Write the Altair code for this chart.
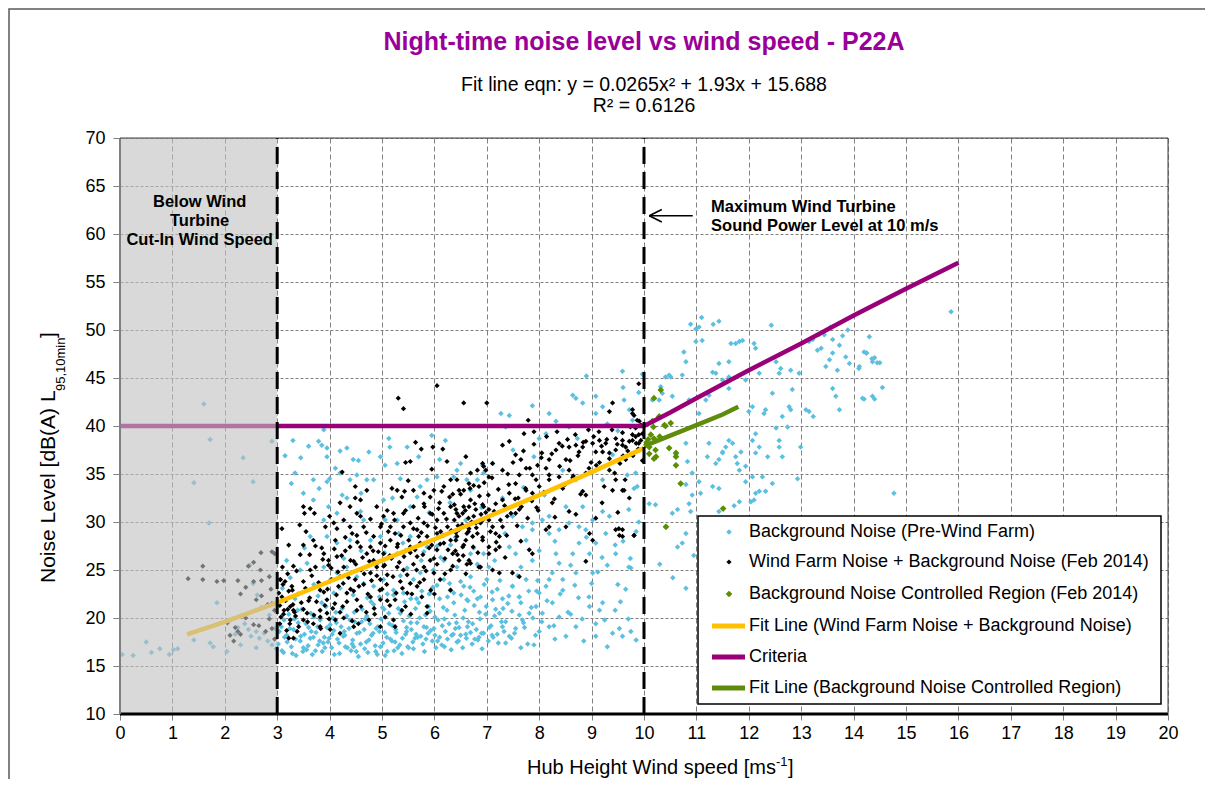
import altair as alt
import pandas as pd

FONT = "Liberation Sans"

TITLE = "Night-time noise level vs wind speed - P22A"
SUBTITLE = ["Fit line eqn: y = 0.0265x² + 1.93x + 15.688", "R² = 0.6126"]
X_TITLE = ["Hub Height Wind speed [ms", "-1", "]"]
Y_TITLE = ["Noise Level [dB(A) L", "95,10min", "]"]

X_TICKS = list(range(0, 21))
Y_TICKS = list(range(10, 71, 5))

LEGEND_LABELS = [
    "Background Noise (Pre-Wind Farm)",
    "Wind Farm Noise + Background Noise (Feb 2014)",
    "Background Noise Controlled Region (Feb 2014)",
    "Fit Line (Wind Farm Noise + Background Noise)",
    "Criteria",
    "Fit Line (Background Noise Controlled Region)",
]

# Background noise (pre-wind farm) - light blue
BLUE = [
    (0.04,16.2),(0.25,16.1),(0.5,17.5),(0.6,16.4),(0.76,16.8),(0.94,16.2),(1.02,16.7),(1.1,16.8),
    (1.41,17.7),(1.72,17.4),(1.78,17.0),(2.04,16.5),(1.6,42.3),(1.72,38.6),(2.35,36.7),(2.9,38.4),
    (1.41,34.1),(2.54,34.2),(1.7,29.9),(1.85,21.6),(2.1,19.8),(2.25,19.0),(2.38,19.4),(2.45,18.8),
    (2.5,18.1),(2.6,18.6),(2.66,17.9),(2.75,18.4),(2.82,17.6),(2.9,17.2),(2.95,18.9),(2.48,25.5),
    (2.54,23.6),(2.62,22.4),(2.7,21.1),(2.3,17.2),(2.2,18.3),(2.85,20.3),(2.98,16.8),(2.6,16.9),
    (3.02,17.3),(3.08,19.1),(3.12,16.4),(3.18,18.2),(3.22,20.4),(3.27,17.0),(3.31,18.8),(3.36,16.1),
    (3.4,19.5),(3.44,17.6),(3.47,20.9),(3.52,18.3),(3.56,16.7),(3.6,19.0),(3.63,17.9),(3.67,16.2),
    (3.7,20.1),(3.74,18.5),(3.78,17.2),(3.82,19.8),(3.86,16.5),(3.9,18.0),(3.93,21.2),(3.97,17.5),
    (4.01,19.3),(4.04,16.9),(4.08,18.7),(4.12,20.6),(4.15,17.8),(4.19,16.3),(4.22,19.1),(4.26,18.1),
    (4.3,17.0),(4.33,20.2),(4.37,18.9),(4.41,16.6),(4.44,17.7),(4.48,19.6),(4.52,18.4),(4.55,16.0),
    (4.59,17.3),(4.62,20.9),(4.66,18.8),(4.7,17.5),(4.73,16.4),(4.77,19.4),(4.8,18.2),(4.84,21.4),
    (4.87,17.1),(4.91,16.2),(4.95,18.6),(4.98,19.9),(5.02,17.4),(5.06,16.1),(5.09,18.0),(5.13,20.5),
    (5.16,17.8),(5.2,19.2),(5.23,16.6),(5.27,18.5),(5.31,21.0),(5.34,17.2),(5.38,16.3),(5.41,19.7),
    (5.45,18.3),(5.49,17.0),(5.52,20.2),(5.56,18.8),(5.6,16.8),(5.63,17.9),(5.67,19.5),(5.7,21.6),
    (5.74,18.1),(5.78,17.3),(5.81,16.5),(5.85,19.0),(5.88,18.4),(5.92,20.7),(5.96,17.6),(5.99,18.9),
    (6.03,16.9),(6.07,19.8),(6.1,18.0),(6.14,17.2),(6.17,21.1),(6.21,18.6),(6.25,17.8),(6.28,19.4),
    (6.32,16.7),(6.36,18.3),(6.39,20.3),(6.43,17.5),(6.47,19.0),(6.5,18.2),(6.54,16.9),(6.58,20.8),
    (6.61,17.9),(6.65,19.6),(6.69,18.5),(6.72,17.3),(6.76,21.3),(6.8,18.8),(6.83,17.7),(6.87,19.9),
    (6.91,16.8),(6.94,18.4),(6.98,20.4),(7.03,17.6),(7.08,19.2),(7.12,18.0),(7.17,20.9),(7.22,17.4),
    (7.28,19.6),(7.33,18.6),(7.4,21.5),(7.47,17.9),(7.55,18.9),(7.62,20.3),(7.7,19.5),(7.78,17.3),
    (7.85,21.1),(7.93,18.2),
    (3.14,18.0),(3.33,19.9),(3.5,16.9),(3.65,18.6),(3.88,17.4),(4.06,20.0),(4.28,18.6),(4.46,17.0),
    (4.68,19.9),(4.89,18.9),(5.04,20.9),(5.25,17.5),(5.47,19.0),(5.65,18.3),(5.83,20.3),(6.01,18.2),
    (6.19,19.9),(6.4,18.9),(6.63,19.1),(6.85,18.0),(5.9,22.5),(6.3,22.9),(5.55,22.0),(4.95,22.2),
    (3.1,23.1),(3.18,26.0),(3.25,24.2),(3.34,22.0),(3.44,25.0),(3.52,27.3),(3.57,25.7),(3.7,23.5),
    (3.78,22.3),(3.89,25.3),(4.02,24.0),(4.08,22.6),(4.14,24.7),(4.14,27.8),(4.2,23.1),(4.27,26.2),
    (4.33,25.3),(4.45,22.4),(4.52,24.3),(4.6,27.0),(4.65,23.6),(4.72,22.1),(4.84,23.3),(4.9,25.6),
    (5.03,24.0),(5.1,22.5),(5.16,26.4),(5.22,22.9),(5.29,26.7),(5.35,24.4),(5.41,22.6),(5.48,25.2),
    (5.6,24.0),(5.66,22.0),(5.73,24.7),(5.8,26.9),(5.86,27.4),(5.92,22.6),(5.98,25.0),(6.05,23.4),
    (6.12,26.3),(6.18,24.0),(6.18,26.0),(6.25,22.2),(6.31,27.6),(6.37,22.6),(6.43,25.3),(6.5,23.8),
    (6.56,23.3),(6.62,21.9),(6.69,24.3),(6.69,26.7),(6.75,22.8),(6.82,25.6),(6.88,22.2),(6.94,26.7),
    (7.0,24.0),(7.04,25.3),(7.11,21.9),(7.2,23.0),(7.3,22.0),(7.43,27.4),(7.49,23.3),(7.55,26.7),
    (7.62,22.2),(7.75,24.0),(7.87,26.0),(7.95,22.8),
    (3.27,34.0),(3.34,35.1),(3.69,34.4),(3.69,32.3),(3.79,38.4),(3.85,38.0),(3.89,39.6),(3.95,37.7),
    (3.95,36.8),(3.95,34.2),(3.98,31.6),(4.0,34.5),(4.11,35.6),(4.2,35.1),(4.2,37.4),(4.24,32.8),
    (4.33,37.7),(4.33,32.5),(4.39,34.4),(4.52,34.9),(4.55,36.4),(4.59,31.1),(4.71,34.4),(4.84,34.4),
    (4.97,36.8),(5.03,32.3),(5.06,35.9),(5.06,30.2),(5.13,38.7),(5.15,37.8),(5.29,36.1),(5.29,30.2),
    (5.32,28.8),(5.48,37.8),(5.54,31.6),(5.67,32.6),(5.73,33.7),(5.86,34.4),(6.05,34.7),(6.21,38.5),
    (6.37,34.7),(6.43,35.4),(6.62,34.4),(6.69,33.3),(6.82,34.4),(6.94,35.1),(3.89,30.2),(4.14,30.9),
    (4.65,30.2),(3.63,28.5),(3.95,28.5),(4.39,28.1),(4.97,28.5),(4.78,28.1),(5.54,28.5),(5.2,32.5),
    (5.9,31.0),(6.3,32.0),(6.6,30.2),(6.9,31.5),(6.5,36.1),(6.92,35.9),(3.45,36.7),(3.6,37.9),
    (3.3,38.5),(3.15,36.9),(3.5,33.0),(4.45,36.5),(4.75,37.3),(5.7,36.8),(5.95,39.0),(6.1,36.5),
    (3.8,33.5),(4.6,33.0),(5.35,34.5),
    (7.24,20.5),(7.3,19.1),(7.43,18.1),(7.68,19.8),(7.81,20.5),(7.94,21.2),(8.0,22.6),(8.13,23.3),
    (8.19,24.0),(8.06,20.5),(8.19,19.1),(8.38,20.1),(8.51,18.1),(8.7,19.1),(9.08,19.4),(9.15,20.8),
    (8.96,21.2),(9.4,18.4),(9.53,18.9),(9.59,18.1),(9.21,21.6),(7.62,22.2),(7.49,23.3),(9.08,18.1),
    (8.3,17.8),(8.0,18.6),(7.9,17.2),(8.6,20.4),(8.85,17.6),(9.3,17.0),(9.75,18.6),(9.85,17.7),
    (7.1,18.2),(7.36,17.4),(7.65,16.9),(8.25,21.6),(8.45,22.9),(8.75,22.1),(9.0,23.6),(9.55,21.7),
    (9.7,19.9),
    (8.32,26.7),(8.38,25.7),(8.64,26.7),(8.76,27.8),(8.96,26.7),(9.08,27.8),(9.27,28.8),(9.46,26.7),
    (9.75,25.2),(9.02,24.7),(8.7,24.7),(8.45,24.0),(8.25,24.7),(7.75,28.1),(7.87,29.2),(8.19,28.8),
    (8.38,29.2),(8.57,29.9),(8.76,29.5),(8.89,29.2),(9.02,30.2),(9.34,30.6),(9.21,31.1),(8.83,31.6),
    (8.51,31.6),(8.19,30.6),(8.06,30.2),(7.87,29.9),(7.68,29.5),(7.49,30.6),(9.71,31.3),(9.68,34.9),
    (9.81,33.5),(9.87,33.7),(9.84,35.1),(9.71,25.3),(9.74,26.2),(9.6,28.0),(9.9,30.0),(9.3,25.5),
    (9.5,23.5),(8.1,32.8),(7.3,32.5),(7.7,33.6),
    (7.36,39.9),(7.27,41.3),(7.43,41.1),(7.87,42.1),(8.64,43.2),(8.7,42.9),(8.83,42.4),(9.08,43.1),
    (9.21,42.0),(8.19,41.3),(8.32,40.5),(8.57,39.9),(9.08,41.3),(8.0,38.7),(8.13,39.2),(8.73,38.7),
    (8.45,35.4),(8.7,34.4),(9.08,35.4),(9.21,34.4),(9.78,40.6),(9.72,41.7),(9.97,45.4),(9.59,45.7),
    (9.62,42.7),(7.11,36.1),(7.5,37.5),(7.9,36.8),(9.4,37.0),(9.5,39.5),(9.3,40.2),(8.9,45.2),
    (9.6,44.0),(9.9,43.5),
    (11.10,51.3),(11.32,50.6),(11.43,50.9),(10.89,50.6),(10.99,50.1),(12.43,50.5),(13.56,50.3),
    (13.89,50.0),(13.79,49.4),(13.6,49.0),(13.44,49.5),(13.34,49.5),(13.22,49.0),(13.15,48.8),
    (13.38,48.1),(13.31,47.9),(13.6,47.6),(13.73,48.4),(13.54,46.9),(13.47,46.2),(13.69,45.8),
    (13.85,47.2),(13.92,46.5),(14.11,46.2),(14.24,47.6),(14.36,46.7),(14.17,42.9),(14.36,43.1),
    (13.73,41.7),(13.6,43.9),(13.66,43.1),(13.15,41.5),(13.23,41.0),(13.09,41.7),(12.77,42.0),
    (12.8,41.7),(12.64,41.0),(12.83,43.8),(12.96,45.5),(12.8,45.8),(12.61,46.0),(12.58,45.5),
    (12.52,46.7),(12.45,43.4),(12.29,41.3),(12.2,45.5),(12.1,48.6),(12.13,48.1),(11.75,48.6),
    (11.66,48.6),(11.82,48.8),(11.88,48.9),(11.62,46.7),(11.43,46.5),(11.62,45.1),(11.5,44.8),
    (11.37,45.5),(11.31,45.6),(11.05,50.3),(11.11,48.9),(10.99,48.8),(10.76,47.7),(10.8,46.7),
    (10.73,45.3),(10.51,45.1),(10.48,45.3),(10.41,45.1),(10.32,44.1),(10.35,43.4),(10.29,42.7),
    (10.16,42.7),(10.54,43.1),(10.86,42.7),(11.05,41.3),(11.18,42.7),(11.24,43.2),(11.62,43.9),
    (11.94,44.8),(12.0,41.5),(12.07,42.0),(12.13,39.2),(12.07,38.5),(12.2,37.8),(12.13,37.2),
    (12.36,36.8),(12.58,38.5),(12.58,37.8),(12.64,36.8),(12.99,37.8),(12.74,39.9),(12.32,41.7),
    (12.52,39.8),(11.62,38.5),(11.56,37.8),(11.5,37.2),(11.69,38.2),(11.75,36.8),(11.85,37.3),
    (11.78,36.1),(11.82,35.4),(11.94,35.8),(11.94,34.2),(12.07,34.7),(12.26,34.7),(12.45,34.0),
    (12.93,34.5),(12.13,33.0),(12.2,33.2),(12.1,32.3),(12.04,32.1),(11.72,31.7),(11.43,31.1),
    (11.82,32.1),(12.32,33.2),(11.31,33.7),(11.43,33.5),(11.05,34.2),(11.08,33.0),(10.92,32.8),
    (10.86,31.9),(10.89,31.1),(10.64,31.3),(10.54,30.9),(10.1,31.9),(10.22,31.8),(10.8,33.9),
    (10.83,36.3),(10.61,37.0),(10.8,38.2),(11.24,38.2),(11.21,36.8),(11.37,36.1),(11.43,36.5),
    (11.5,37.3),(10.92,35.1),(10.73,27.8),(10.64,27.4),(10.41,29.5),(10.8,28.8),(10.8,23.1),
    (10.95,26.5),(10.3,25.6),(10.55,24.2),
    (14.3,49.3),(14.25,47.6),(14.2,47.7),(14.35,47.0),(14.4,47.1),(14.45,46.6),(14.5,46.6),
    (14.1,46.0),(14.55,44.0),(14.2,42.8),(14.4,42.8),(14.77,33.0),(15.86,51.9),
]

# more background points in the dense floor band
BLUE_FLOOR = [
    (3.04,18.6),(3.09,16.6),(3.13,19.8),(3.19,17.5),(3.24,18.9),(3.29,16.3),(3.35,17.8),(3.39,20.8),
    (3.45,18.1),(3.49,16.5),(3.55,19.4),(3.59,17.1),(3.64,20.5),(3.69,18.0),(3.73,16.6),(3.77,19.1),
    (3.81,17.6),(3.85,21.6),(3.91,16.9),(3.95,19.0),(3.99,17.9),(4.05,18.3),(4.09,16.2),(4.13,19.5),
    (4.18,17.4),(4.24,21.0),(4.29,18.2),(4.34,16.9),(4.39,19.8),(4.43,17.3),(4.47,20.6),(4.51,16.5),
    (4.57,18.5),(4.61,19.6),(4.67,16.8),(4.71,20.2),(4.75,17.7),(4.79,21.7),(4.83,18.4),(4.88,16.5),
    (4.92,19.1),(4.97,17.0),(5.01,21.1),(5.05,18.5),(5.1,16.5),(5.14,19.4),(5.19,17.6),(5.22,22.4),
    (5.26,18.8),(5.3,16.9),(5.35,20.5),(5.39,17.9),(5.43,21.7),(5.47,18.6),(5.51,16.9),(5.55,19.5),
    (5.59,17.5),(5.64,21.0),(5.68,18.0),(5.72,20.0),(5.76,22.8),(5.8,19.1),(5.84,17.8),(5.89,21.2),
    (5.93,18.7),(5.97,23.2),(6.01,20.1),(6.06,17.6),(6.1,22.0),(6.15,19.2),(6.19,17.0),(6.24,20.8),
    (6.29,23.6),(6.33,18.2),(6.37,21.6),(6.42,19.5),(6.46,17.6),(6.51,22.4),(6.55,20.0),(6.6,18.3),
    (6.64,21.8),(6.68,23.2),(6.73,19.4),(6.77,17.8),(6.82,22.0),(6.86,20.6),(6.9,18.4),(6.95,23.5),
    (6.99,21.2),(7.05,19.0),(7.1,22.7),(7.15,20.2),(7.2,18.3),(7.25,23.9),(7.31,21.0),(7.36,19.6),
    (7.42,22.3),(7.48,20.7),(7.53,18.4),(7.59,24.4),(7.65,21.6),(7.72,19.0),(7.8,22.8),(7.88,20.0),
    (7.97,23.9),(8.05,19.6),(8.15,21.8),(8.28,19.2),(8.4,22.5),(8.55,20.6),(8.68,23.4),(8.82,19.9),
    (8.95,22.2),(9.12,24.8),(9.25,19.8),(9.45,20.8),(9.65,23.0),
    (5.05,26.8),(5.4,27.8),(5.75,26.0),(6.05,27.5),(6.4,28.4),(6.75,27.3),(7.15,26.0),(7.35,28.8),
    (7.65,25.3),(8.0,27.0),(8.3,28.0),(8.6,25.5),(8.9,28.4),(9.2,26.3),(9.45,27.6),(9.85,29.0),
]

# Wind farm noise + background noise (Feb 2014) - black
BLACK = [
    (1.3,24.1),(1.58,25.4),(1.58,24.0),(1.85,23.8),(1.98,23.9),(2.3,22.5),(2.45,25.4),(2.55,25.8),
    (2.68,25.0),(2.69,26.8),(2.95,26.7),(2.9,26.9),(2.25,23.9),(2.4,23.2),(2.55,23.8),(2.7,23.9),
    (2.85,24.3),(2.88,23.0),(2.6,21.9),(2.7,22.3),(2.82,21.4),(2.9,21.5),(2.95,20.8),(2.1,18.2),
    (2.17,17.6),(2.2,19.0),(2.25,18.6),(2.3,18.3),(2.55,19.3),(2.65,19.2),(2.78,18.6),(2.9,18.9),
    (2.95,17.8),(2.85,19.9),(2.05,19.5),(2.4,20.0),
    (3.06,24.0),(3.15,23.8),(3.09,22.2),(3.05,21.3),(3.12,20.4),(3.2,20.9),(3.25,19.8),(3.3,21.4),
    (3.35,20.2),(3.05,19.4),(3.18,18.7),(3.1,25.3),(3.22,22.8),(3.28,23.3),
    (6.05,44.2),(5.31,42.9),(5.41,41.8),(6.56,42.4),(7.0,42.4),
    (5.64,38.3),(5.75,37.6),(5.97,37.8),(6.16,37.6),(5.45,36.2),(5.54,36.3),(4.24,35.2),(5.19,33.5),
    (5.29,33.3),(5.38,32.6),(5.43,33.2),(4.49,33.7),(4.49,32.5),(3.63,31.4),(3.52,30.9),(3.71,30.9),
    (3.43,29.7),(3.09,29.3),(4.9,31.6),(4.59,30.6),(4.78,30.3),(4.65,29.5),(4.39,29.5),(4.43,28.8),
    (3.92,29.5),(4.14,29.3),(3.69,28.1),(3.5,27.6),(3.22,27.6),(3.73,27.5),(3.89,26.7),(3.98,26.0),
    (3.98,25.5),(3.62,26.6),(3.44,26.6),(3.31,25.4),(3.06,24.0),(3.5,23.8),(3.63,25.0),(3.73,25.3),
    (3.89,22.7),(3.82,22.9),(3.25,21.2),(3.31,20.8),(3.13,20.8),(3.5,19.8),(3.57,20.5),(3.82,20.8),
    (3.82,20.1),(3.82,19.1),(3.69,19.4),(3.38,18.6),(3.31,17.9),(3.22,17.9),(4.01,18.8),(3.95,20.5),
    (4.11,19.8),(4.27,20.0),(4.2,18.4),(4.52,20.8),(4.46,19.1),(4.55,19.4),(4.75,19.8),(4.97,19.1),
    (5.06,20.1),(5.22,19.8),(5.25,19.1),(5.38,20.8),(5.45,21.2),(5.25,21.9),(4.97,21.9),(4.78,22.2),
    (4.52,21.9),(4.33,22.6),(4.17,23.3),(4.04,24.0),(4.2,24.3),(4.49,24.0),(4.78,24.7),(4.9,25.3),
    (4.97,24.0),(5.1,24.5),(5.29,25.3),(5.41,25.0),(5.54,23.6),(5.67,23.3),(5.8,24.0),(5.76,22.2),
    (5.86,20.5),(5.48,22.6),(4.84,26.0),(4.71,26.7),(4.59,27.4),(4.78,27.4),(4.97,27.8),(5.16,28.1),
    (5.29,27.4),(5.03,26.7),(4.46,25.9),(4.27,25.3),(4.14,26.4),(4.39,27.4),(4.11,28.1),(4.52,28.6),
    (4.84,28.5),(4.97,29.5),(5.16,29.5),(5.41,29.5),(5.54,29.9),(5.67,29.2),(5.8,29.9),(5.92,30.9),
    (6.05,30.2),(6.18,30.9),(6.31,31.6),(6.43,30.9),(6.56,31.6),(6.69,32.3),(6.75,30.6),(6.88,29.9),
    (6.94,31.6),(6.82,28.8),(6.62,28.8),(6.43,28.5),(6.31,28.1),(6.18,27.8),(6.05,27.1),(5.92,26.0),
    (5.8,25.3),(5.67,26.4),(5.54,27.4),(5.73,27.8),(5.86,28.5),(6.05,28.8),(6.12,29.0),(5.99,24.7),
    (6.11,24.0),(6.31,25.0),(6.69,25.7),(6.88,25.3),(6.31,22.9),(5.86,21.2),(5.6,33.3),(5.8,33.0),
    (5.99,33.3),(6.18,33.7),(6.31,34.4),(6.69,35.1),(6.82,35.4),(6.94,35.8),(6.24,36.3),(6.43,34.4),
    (6.56,33.3),(5.92,32.6),(5.8,31.9),(5.6,31.6),(5.41,30.9),(5.22,30.9),(5.1,31.2),(5.03,30.6),
    (4.52,30.9),(4.27,30.2),(4.08,29.9),(4.39,31.6),(4.59,32.3),(4.71,33.3),(3.5,31.6),
    (4.1,21.5),(4.4,23.0),(4.65,23.5),(4.85,21.0),(5.0,23.0),(5.15,26.5),(5.35,23.8),(5.6,25.6),
    (5.7,28.5),(5.95,27.6),(6.2,26.2),(6.4,27.0),(6.55,26.5),(6.6,24.6),(6.25,29.5),(6.45,29.6),
    (6.65,30.4),(5.25,28.8),(5.45,27.0),(5.05,25.5),(4.6,25.0),(4.3,27.0),(3.85,27.3),(3.55,29.0),
    (4.0,30.6),(4.2,32.0),(5.5,34.3),(5.95,35.5),(6.1,32.0),(6.35,32.9),(6.75,33.8),(6.6,36.8),
    (3.6,21.8),(3.4,22.5),(3.95,21.9),(4.25,21.2),(4.7,20.6),(5.1,21.8),(5.55,20.4),(6.0,22.5),
    (7.3,38.0),(7.43,38.4),(7.71,39.2),(7.9,39.4),(7.55,37.0),(7.65,36.5),(7.75,35.6),(7.97,35.9),
    (7.87,34.9),(8.13,35.6),(8.19,36.5),(8.32,37.5),(8.38,38.2),(8.57,37.8),(8.7,38.0),(8.83,37.8),
    (8.89,38.4),(9.02,38.2),(9.08,37.3),(9.21,37.3),(9.34,37.2),(9.46,37.5),(9.59,38.0),(9.72,38.4),
    (9.78,39.1),(9.85,38.2),(9.94,38.5),(9.97,39.2),(9.46,38.7),(9.27,38.2),(9.15,38.5),(8.76,37.3),
    (8.51,36.5),(8.57,35.4),(8.38,34.7),(8.19,34.4),(8.0,33.7),(7.87,33.0),(7.75,33.3),(7.55,34.0),
    (7.43,33.0),(7.3,32.3),(7.17,31.9),(7.04,31.3),(6.92,31.8),(6.79,31.3),(6.66,31.6),(6.54,30.9),
    (6.41,31.3),(6.38,30.2),(6.47,29.2),(6.66,29.3),(6.79,29.9),(6.92,30.2),(7.04,30.2),(7.11,29.5),
    (7.17,28.8),(7.24,28.5),(7.3,29.5),(7.39,30.6),(7.55,30.9),(7.62,31.3),(7.24,27.4),(7.17,27.1),
    (7.04,27.4),(6.92,28.1),(6.73,28.5),(6.6,28.1),(6.54,27.4),(6.41,28.1),(6.35,26.7),(6.47,26.0),
    (6.66,26.0),(6.85,25.3),(7.04,26.7),(7.11,25.0),(7.24,24.7),(7.49,24.7),(7.62,24.3),(7.81,27.1),
    (7.87,26.7),(8.13,29.2),(8.19,29.5),(8.51,29.5),(8.57,31.1),(8.83,33.2),(8.89,32.8),(9.08,30.4),
    (8.96,28.8),(9.02,28.1),(8.89,25.9),(9.46,29.2),(9.53,28.6),(9.59,28.5),(9.81,28.6),(9.4,33.3),
    (9.59,33.3),(9.46,34.4),(9.34,35.4),(9.72,32.5),(7.04,34.7),(6.98,35.4),(6.92,36.1),(7.11,36.1),
    (6.66,34.0),(6.47,33.3),(6.85,33.7),(9.4,42.4),(9.34,41.5),(9.91,40.5),(9.78,41.3),(7.79,40.6),
    (9.78,41.7),(9.81,41.1),(9.87,40.6),(9.84,39.8),(9.9,39.1),(9.78,38.5),(9.65,37.8),(9.59,38.5),
    (9.65,36.5),(9.9,38.2),(9.9,44.4),(9.62,33.3),(9.52,29.3),(9.59,29.2),(9.81,28.6),
    (7.4,35.0),(7.6,32.5),(7.95,31.5),(8.25,32.0),(8.45,33.5),(8.65,34.8),(8.95,35.6),(9.15,36.2),
    (9.6,36.9),(8.05,37.2),(7.65,28.0),(7.35,26.3),(8.3,30.5),(8.7,30.8),(9.2,32.0),(9.5,31.0),
]

# more wind-farm points in the dense band around the fit line
BLACK_CORE = [
    (3.03,22.6),(3.07,20.1),(3.11,23.5),(3.16,21.8),(3.2,24.6),(3.24,19.4),(3.29,22.9),(3.33,20.6),
    (3.37,24.9),(3.41,19.1),(3.46,21.6),(3.5,20.9),(3.54,23.1),(3.58,19.6),(3.62,22.1),(3.66,24.4),
    (3.7,20.3),(3.75,21.7),(3.79,23.7),(3.83,18.9),(3.87,26.1),(3.91,21.3),(3.96,23.0),(3.99,19.9),
    (4.03,25.2),(4.06,21.0),(4.09,27.2),(4.13,22.4),(4.16,24.8),(4.2,20.6),(4.23,26.5),(4.26,23.6),
    (4.3,28.4),(4.33,21.7),(4.36,24.2),(4.4,26.0),(4.43,19.7),(4.46,22.8),(4.5,25.6),(4.53,27.9),
    (4.56,23.3),(4.6,21.2),(4.63,26.3),(4.66,24.6),(4.7,28.9),(4.73,22.5),(4.76,25.9),(4.8,23.9),
    (4.83,27.0),(4.86,20.4),(4.9,24.4),(4.93,26.9),(4.96,22.9),(4.99,29.8),
    (5.03,25.4),(5.06,27.5),(5.09,23.5),(5.12,29.0),(5.15,21.3),(5.18,26.2),(5.21,24.3),(5.24,30.2),
    (5.27,22.6),(5.3,27.7),(5.33,25.8),(5.36,28.6),(5.39,23.1),(5.42,26.4),(5.45,31.2),(5.48,24.5),
    (5.51,28.1),(5.54,26.8),(5.57,22.5),(5.6,29.3),(5.63,27.1),(5.66,25.0),(5.69,30.4),(5.72,23.7),
    (5.75,28.9),(5.78,26.6),(5.81,31.6),(5.84,24.9),(5.87,29.6),(5.9,27.3),(5.93,22.9),(5.96,30.8),
    (5.99,26.2),
    (6.02,29.4),(6.05,25.6),(6.08,31.4),(6.11,27.7),(6.14,33.2),(6.17,28.6),(6.2,24.6),(6.23,30.3),
    (6.26,27.1),(6.29,32.6),(6.32,29.1),(6.35,25.4),(6.38,31.8),(6.41,28.9),(6.44,26.6),(6.47,30.6),
    (6.5,32.9),(6.53,29.7),(6.56,27.6),(6.59,31.2),(6.62,25.6),(6.65,29.0),(6.68,33.5),(6.71,30.0),
    (6.74,27.4),(6.77,31.9),(6.8,29.4),(6.83,26.8),(6.86,32.7),(6.89,30.8),(6.92,28.4),(6.95,34.1),
    (6.98,31.0),
    (7.03,32.8),(7.07,29.0),(7.1,34.6),(7.14,31.1),(7.18,27.9),(7.22,33.4),(7.26,30.2),(7.3,35.4),
    (7.34,31.7),(7.38,28.6),(7.42,33.9),(7.46,30.9),(7.5,36.2),(7.54,32.4),(7.58,29.6),(7.62,34.9),
    (7.66,31.6),(7.7,37.4),(7.74,33.5),(7.78,30.4),(7.82,35.6),(7.86,32.2),(7.9,38.1),(7.94,34.4),
    (7.98,31.2),
    (8.04,36.7),(8.09,33.1),(8.14,38.9),(8.19,34.9),(8.24,37.1),(8.29,32.4),(8.34,39.4),(8.39,35.8),
    (8.44,37.9),(8.49,33.9),(8.54,38.6),(8.59,36.4),(8.64,34.6),(8.69,39.1),(8.74,36.9),(8.79,32.9),
    (8.84,38.3),(8.89,35.1),(8.94,39.6),(8.99,36.2),
    (9.04,38.9),(9.09,35.9),(9.14,39.4),(9.19,37.9),(9.24,33.7),(9.29,38.6),(9.34,36.6),(9.39,39.6),
    (9.44,35.1),(9.49,38.1),(9.54,36.1),(9.59,39.3),(9.64,34.4),(9.69,37.4),(9.74,39.9),(9.79,36.9),
    (9.84,38.9),(9.89,37.6),(9.94,40.1),(9.97,36.4),
]

# Background noise controlled region (Feb 2014) - green
GREEN = [
    (10.32,43.75),(10.19,42.9),(10.29,41.0),(10.16,40.5),(10.41,40.0),(10.51,40.3),(10.18,39.9),
    (10.39,40.1),(10.13,39.1),(10.19,38.7),(10.05,38.3),(10.1,37.8),(10.22,37.5),(10.1,37.1),
    (10.19,36.6),(10.23,36.8),(10.48,37.7),(10.61,37.2),(10.61,36.8),(10.61,35.9),(10.7,34.0),
    (11.51,31.4),(10.42,29.5),(10.3,38.9),(10.08,38.6),
]

FIT_X = [1.28, 2, 3, 4, 5, 6, 7, 8, 9, 10]
FIT_Y = [18.3, 19.6, 21.6, 23.8, 26.0, 28.2, 30.5, 32.8, 35.2, 37.7]

CRIT_X = [0, 10, 10.5, 11, 12, 13, 14, 15, 16]
CRIT_Y = [40, 40, 41.4, 42.9, 45.8, 48.6, 51.5, 54.3, 57.0]

GFIT_X = [10, 10.5, 11, 11.5, 11.8]
GFIT_Y = [37.9, 39.0, 40.1, 41.2, 42.0]

CUT_IN = 3
MAX_SPL = 10

NOTE_LEFT = ["Below Wind", "Turbine", "Cut-In Wind Speed"]
NOTE_LEFT_Y = [63.33, 61.35, 59.38]
NOTE_RIGHT = ["Maximum Wind Turbine", "Sound Power Level at 10 m/s"]
NOTE_RIGHT_Y = [62.8, 60.8]

# ---------------------------------------------------------------
W, H = 1048, 576
PURPLE = "#990077"
BLUE_C = "#5BBFE0"
GREEN_C = "#5B8F00"
ORANGE = "#FFC000"
GFIT_C = "#5F8C0A"

xs = alt.Scale(domain=[0, 20], nice=False, zero=False)
ys = alt.Scale(domain=[10, 70], nice=False, zero=False)

x_axis = alt.Axis(values=X_TICKS, domain=False, grid=True, gridDash=[5, 3], gridColor="#808080",
                  gridWidth=1, tickColor="#808080", tickSize=6, labelFontSize=18, labelFont=FONT,
                  labelColor="#000000", labelPadding=4, labelFlush=False)
y_axis = alt.Axis(values=Y_TICKS, domain=False, grid=True, gridDash=[3, 2], gridColor="#808080",
                  gridWidth=1, tickColor="#808080", tickSize=7, labelFontSize=18, labelFont=FONT,
                  labelColor="#000000", labelPadding=8, labelFlush=False)

X = alt.X("x:Q", scale=xs, axis=x_axis, title=None)
Y = alt.Y("y:Q", scale=ys, axis=y_axis, title=None)


def df_pts(lst):
    return pd.DataFrame({"x": [p[0] for p in lst], "y": [p[1] for p in lst]})


blue = alt.Chart(df_pts(BLUE + BLUE_FLOOR)).mark_point(shape="diamond", filled=True, size=30, color=BLUE_C, opacity=1).encode(x=X, y=Y)
black = alt.Chart(df_pts(BLACK + BLACK_CORE)).mark_point(shape="diamond", filled=True, size=27, color="#000000", opacity=1).encode(x=X, y=Y)
green = alt.Chart(df_pts(GREEN)).mark_point(shape="diamond", filled=True, size=45, color=GREEN_C, opacity=1).encode(x=X, y=Y)

fit = alt.Chart(pd.DataFrame({"x": FIT_X, "y": FIT_Y})).mark_line(color=ORANGE, strokeWidth=4.5).encode(x=X, y=Y)
crit = alt.Chart(pd.DataFrame({"x": CRIT_X, "y": CRIT_Y})).mark_line(color=PURPLE, strokeWidth=4.5).encode(x=X, y=Y)
gfit = alt.Chart(pd.DataFrame({"x": GFIT_X, "y": GFIT_Y})).mark_line(color=GFIT_C, strokeWidth=4.5).encode(x=X, y=Y)

shade = alt.Chart(pd.DataFrame({"x": [0], "x2": [CUT_IN], "y": [10], "y2": [70]})).mark_rect(
    color="#bfbfbf", opacity=0.6).encode(x=X, x2="x2", y=Y, y2="y2")

vlines = alt.Chart(pd.DataFrame({"x": [CUT_IN, MAX_SPL], "y": [10, 10], "y2": [70, 70]})).mark_rule(
    color="#000000", strokeWidth=3, strokeDash=[17, 8]).encode(x=X, y=Y, y2="y2")

# plot frame lines
bottom = alt.Chart(pd.DataFrame({"x": [0], "x2": [20], "y": [10]})).mark_rule(color="#000000", strokeWidth=3).encode(x=X, x2="x2", y=Y)
left = alt.Chart(pd.DataFrame({"x": [0], "y": [10], "y2": [70]})).mark_rule(color="#808080", strokeWidth=2).encode(x=X, y=Y, y2="y2")
top = alt.Chart(pd.DataFrame({"x": [0], "x2": [20], "y": [70]})).mark_rule(color="#404040", strokeWidth=1).encode(x=X, x2="x2", y=Y)
right = alt.Chart(pd.DataFrame({"x": [20], "y": [10], "y2": [70]})).mark_rule(color="#404040", strokeWidth=1).encode(x=X, y=Y, y2="y2")

# arrow to the 10 m/s line
arrow = alt.Chart(pd.DataFrame({
    "x": [10.10, 10.10, 10.10], "x2": [10.93, 10.34, 10.34],
    "y": [61.9, 61.9, 61.9], "y2": [61.9, 62.55, 61.25]})).mark_rule(color="#000000", strokeWidth=1.5).encode(
    x=X, x2="x2", y=Y, y2="y2")

note_l = alt.Chart(pd.DataFrame({"x": [1.52] * 3, "y": NOTE_LEFT_Y, "t": NOTE_LEFT})).mark_text(
    font=FONT, fontSize=16.5, fontWeight="bold", color="#000000", align="center", baseline="middle").encode(
    x=X, y=Y, text="t:N")
note_r = alt.Chart(pd.DataFrame({"x": [11.28] * 2, "y": NOTE_RIGHT_Y, "t": NOTE_RIGHT})).mark_text(
    font=FONT, fontSize=16.5, fontWeight="bold", color="#000000", align="left", baseline="middle").encode(
    x=X, y=Y, text="t:N")

one = pd.DataFrame({"k": [0]})


def txt(s, x, y, size, **kw):
    return alt.Chart(one).mark_text(font=FONT, fontSize=size, **kw).encode(
        x=alt.value(x), y=alt.value(y), text=alt.value(s))


layers = [blue, black, green, fit, crit, gfit, shade, vlines, bottom, left, top, right, arrow, note_l, note_r]

# legend box
layers.append(alt.Chart(one).mark_rect(fill="#ffffff", stroke="#000000", strokeWidth=1.5).encode(
    x=alt.value(578), x2=alt.value(1041), y=alt.value(378), y2=alt.value(566)))
row_y = [394, 424, 456, 488, 519, 550]
sym = [(BLUE_C, 30), ("#000000", 27), (GREEN_C, 45)]
for i, (c, s) in enumerate(sym):
    layers.append(alt.Chart(one).mark_point(shape="diamond", filled=True, size=s, color=c, opacity=1).encode(
        x=alt.value(609), y=alt.value(row_y[i])))
for i, c in enumerate([ORANGE, PURPLE, GFIT_C]):
    layers.append(alt.Chart(one).mark_rule(color=c, strokeWidth=5).encode(
        x=alt.value(592), x2=alt.value(625), y=alt.value(row_y[3 + i])))
for i, lab in enumerate(LEGEND_LABELS):
    layers.append(txt(lab, 629, row_y[i], 18, align="left", baseline="middle", color="#000000"))

# titles
layers.append(txt(TITLE, 524, -96, 25, align="center", baseline="middle", fontWeight="bold", color="#990099"))
layers.append(txt(SUBTITLE[0], 524, -53, 19.5, align="center", baseline="middle", color="#000000"))
layers.append(txt(SUBTITLE[1], 524, -32, 19.5, align="center", baseline="middle", color="#000000"))

# x axis title with superscript
layers.append(txt(X_TITLE[0], 407, 636, 20, align="left", baseline="alphabetic", color="#000000"))
layers.append(txt(X_TITLE[1], 656, 628, 13, align="left", baseline="alphabetic", color="#000000"))
layers.append(txt(X_TITLE[2], 668, 636, 20, align="left", baseline="alphabetic", color="#000000"))

# y axis title with subscript (rotated)
layers.append(txt(Y_TITLE[0], -65, 445, 21, align="left", baseline="alphabetic", angle=270, color="#000000"))
layers.append(txt(Y_TITLE[1], -55, 253, 13, align="left", baseline="alphabetic", angle=270, color="#000000"))
layers.append(txt(Y_TITLE[2], -65, 200, 21, align="left", baseline="alphabetic", angle=270, color="#000000"))

# outer frame
layers.append(alt.Chart(one).mark_rect(fill=None, stroke="#595959", strokeWidth=1.5).encode(
    x=alt.value(-111), x2=alt.value(1100), y=alt.value(-129), y2=alt.value(700)))

chart = alt.layer(*layers).properties(
    width=W, height=H,
    autosize=alt.AutoSizeParams(type="none"),
    padding={"left": 112, "top": 130, "right": 37, "bottom": 65},
).configure_view(stroke=None).configure(background="#ffffff")

chart.save("out.html", embed_options={"renderer": "svg", "actions": False})
